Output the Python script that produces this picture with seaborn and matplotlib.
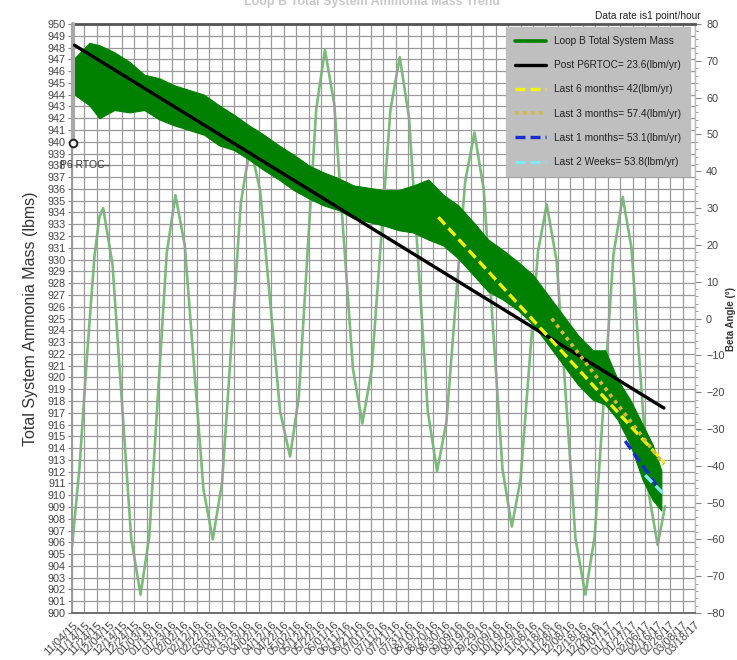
import numpy as np
import pandas as pd
import matplotlib
matplotlib.use("Agg")
import matplotlib.pyplot as plt
import matplotlib.dates as mdates
from matplotlib.ticker import MultipleLocator
from matplotlib.lines import Line2D
import seaborn as sns

# ---------------- data ----------------
START = pd.Timestamp("2015-11-04")
N_TICKS = 51          # date ticks every 10 days: 11/04/15 ... 03/18/17

# Loop B total system mass band (hourly data drawn as a dense band): envelope
mass_days = [2, 14, 22, 34, 46, 58, 70, 82, 94, 106, 118, 130, 142, 154, 166, 178,
             190, 202, 214, 226, 238, 250, 262, 274, 286, 298, 310, 322, 334, 346,
             358, 370, 382, 394, 406, 418, 428, 438, 448, 458, 466, 473]
mass_upper = [947.1, 948.4, 948.2, 947.6, 946.8, 945.7, 945.4, 944.8, 944.4, 944.0,
              943.1, 942.3, 941.4, 940.6, 939.7, 938.9, 938.0, 937.4, 936.9, 936.3,
              936.1, 935.9, 935.9, 936.3, 936.8, 935.5, 934.6, 933.2, 931.7, 930.8,
              929.8, 928.7, 927.0, 925.3, 923.6, 922.3, 922.3, 919.8, 918.1, 916.0,
              914.3, 912.1]
mass_lower = [944.0, 943.1, 942.0, 942.7, 942.5, 942.7, 941.9, 941.4, 941.0, 940.6,
              939.7, 939.3, 938.5, 937.6, 936.8, 935.9, 935.2, 934.6, 934.2, 933.5,
              933.2, 932.9, 932.5, 932.3, 931.7, 931.2, 930.1, 928.7, 927.3, 926.6,
              925.7, 924.5, 922.8, 921.1, 919.4, 918.1, 917.7, 916.4, 914.3, 911.3,
              909.6, 908.7]

# Beta angle (right axis, degrees)
beta_days = [0, 6, 12, 18, 22, 25, 32.5, 40, 47.5, 55, 62, 69, 76, 83, 90.5, 98, 105.5,
             113, 120.5, 128, 135.5, 143, 151, 159, 167, 175, 182, 189, 196, 203, 210.5,
             218, 225.5, 233, 240.5, 248, 255.5, 263, 270.5, 278, 285.5, 293, 300.5, 308,
             315.5, 323, 330.5, 338, 345.5, 353, 360, 367, 374, 381, 389, 396.5, 404, 412,
             419.5, 427, 434.5, 442, 449, 456, 463, 470, 476]
beta_deg = [-62, -40.5, -10.3, 16.8, 27.6, 30, 14.7, -22.5, -59.7, -75, -59.2, -20.75,
            17.7, 33.5, 19.9, -13.25, -46.4, -60, -44.4, -6.5, 31.4, 47, 34.7, 4.75,
            -25.2, -37.5, -21.4, 17.75, 56.9, 73, 58.2, 22.25, -13.7, -28.5, -14.0,
            21.25, 56.5, 71, 54.6, 14.75, -25.1, -41.5, -28.1, 4.5, 37.1, 50.5, 34.9,
            -3.0, -40.9, -56.5, -43.7, -12.75, 18.2, 31, 15.5, -22, -59.5, -75, -59.2,
            -21, 17.2, 33, 19.2, -14.25, -47.7, -61.5, -51]

# Trend lines: (label, start day, end day, start value, end value)
trend_labels = ["Post P6RTOC= 23.6(lbm/yr)", "Last 6 months= 42(lbm/yr)",
                "Last 3 months= 57.4(lbm/yr)", "Last 1 months= 53.1(lbm/yr)",
                "Last 2 Weeks= 53.8(lbm/yr)"]
trend_day0 = [2, 294, 385, 444, 460]
trend_day1 = [475, 475, 475, 472, 474]
trend_val0 = [948.2, 933.6, 925.0, 914.6, 911.7]
trend_val1 = [917.4, 912.8, 912.6, 910.4, 910.2]
band_label = "Loop B Total System Mass"

# P6 RTOC event marker
event_day = 1
event_top, event_bottom = 950.0, 939.9
event_label = "P6 RTOC"

# ---------------- styling ----------------
sns.set_style("white")
plt.rcParams["font.family"] = ["Liberation Sans Narrow", "Liberation Sans", "DejaVu Sans"]

def to_dates(days):
    return START + pd.to_timedelta(np.asarray(days, dtype=float), unit="D")

fig = plt.figure(figsize=(7.37, 6.60), dpi=100)
rect = [0.0977, 0.0712, 0.8453, 0.8924]
axb = fig.add_axes(rect)                 # beta angle (drawn underneath)
ax = fig.add_axes(rect, sharex=axb)      # mass (drawn on top)
ax.patch.set_visible(False)

GRID = "#9a9a9a"

# --- beta angle ---
beta_df = pd.DataFrame({"date": to_dates(beta_days), "beta": beta_deg})
sns.lineplot(data=beta_df, x="date", y="beta", ax=axb, color="#78be78",
             linewidth=1.9, sort=False, legend=False)
axb.set_ylim(-80, 80)
axb.yaxis.tick_right()
axb.yaxis.set_label_position("right")
axb.yaxis.set_major_locator(MultipleLocator(10))
axb.yaxis.set_minor_locator(MultipleLocator(2))
axb.tick_params(axis="y", which="major", right=True, length=4, color="#888888",
                labelsize=7.8, labelcolor="#444444", pad=4)
axb.tick_params(axis="y", which="minor", right=True, length=2.5, color="#888888")
axb.tick_params(axis="x", which="both", bottom=False, labelbottom=False)
axb.set_ylabel("Beta Angle (°)", fontsize=7, fontweight="bold", color="#333333",
               labelpad=1)
axb.set_xlabel("")
for s in axb.spines.values():
    s.set_visible(False)

# --- mass band ---
dates_mass = to_dates(mass_days)
ax.fill_between(dates_mass, mass_lower, mass_upper, color="#008000", linewidth=0.8,
                edgecolor="#008000", zorder=3)

styles = [
    dict(color="black", linewidth=2.4, linestyle="-"),
    dict(color="#f5f500", linewidth=2.4, linestyle=(0, (3, 1.5))),
    dict(color="#d8b93a", linewidth=2.6, linestyle=(0, (1, 1.2))),
    dict(color="#1a2bd0", linewidth=2.4, linestyle=(0, (3, 1.5))),
    dict(color="#7fe8f0", linewidth=2.4, linestyle=(0, (3, 1.5))),
]
handles = [Line2D([], [], color="#008000", linewidth=2.6)]
for lab, d0, d1, v0, v1, st in zip(trend_labels, trend_day0, trend_day1,
                                   trend_val0, trend_val1, styles):
    tdf = pd.DataFrame({"date": to_dates([d0, d1]), "mass": [v0, v1]})
    sns.lineplot(data=tdf, x="date", y="mass", ax=ax, legend=False, zorder=5, **st)
    handles.append(Line2D([], [], **st))

# event marker
ev_dates = to_dates([event_day, event_day])
ax.plot(ev_dates, [event_top, event_bottom], color="#a8a8a8", linewidth=3,
        zorder=4, clip_on=False)
ax.plot(ev_dates[1:], [event_bottom], marker="o", markersize=5.5, markerfacecolor="white",
        markeredgecolor="#222222", markeredgewidth=1.4, zorder=6, clip_on=False)
ax.text(to_dates([-9.6])[0], 938.0, event_label, fontsize=7.5, color="#333333",
        va="center", ha="left", zorder=6)
ax.plot(to_dates([20.5, 30]), [938.0, 938.0], color="#555555", linewidth=1.0, zorder=6)

# axes / ticks
ticks = pd.date_range(START, periods=N_TICKS, freq="10D")
ax.set_xlim(ticks[0], ticks[-1])
ax.set_ylim(900, 950)
ax.set_xticks(ticks)
ax.xaxis.set_major_formatter(mdates.DateFormatter("%m/%d/%y"))
ax.xaxis.set_minor_locator(MultipleLocator(2))
ax.tick_params(axis="x", which="major", labelsize=8, labelcolor="#444444",
               length=3, color="#777777", pad=2)
ax.tick_params(axis="x", which="minor", length=2, color="#777777")
plt.setp(ax.get_xticklabels(), rotation=45, ha="right", rotation_mode="anchor")
ax.yaxis.set_major_locator(MultipleLocator(1))
ax.tick_params(axis="y", which="major", left=True, right=False, labelsize=7.8,
               labelcolor="#444444", length=3, color="#888888", pad=1.5)
ax.grid(True, which="major", color=GRID, linewidth=0.9, zorder=0)
ax.set_axisbelow(True)
ax.set_xlabel("")
ax.set_ylabel("Total System Ammonia Mass (lbms)", fontsize=11.5, color="#333333",
              labelpad=7)

ax.spines["top"].set_color("#555555")
ax.spines["top"].set_linewidth(2.0)
ax.spines["left"].set_color("#9a9a9a")
ax.spines["left"].set_linewidth(1.4)
ax.spines["bottom"].set_color("#666666")
ax.spines["bottom"].set_linewidth(1.3)
ax.spines["right"].set_color("#bbbbbb")
ax.spines["right"].set_linewidth(1.0)

# legend
leg = ax.legend(handles, [band_label] + trend_labels, loc="upper right",
                bbox_to_anchor=(0.992, 0.995), fontsize=7.3, frameon=True,
                fancybox=False, facecolor="#bfbfbf", edgecolor="#bfbfbf",
                framealpha=1.0, labelspacing=1.4, handlelength=3.0,
                handletextpad=0.8, borderpad=0.9, borderaxespad=0.0)
leg.set_zorder(10)
for t in leg.get_texts():
    t.set_color("#222222")

# texts above the plot
fig.text(0.951, 0.976, "Data rate is1 point/hour", fontsize=7.3, ha="right",
         va="center", color="#222222")
fig.text(0.505, 0.997, "Loop B Total System Ammonia Mass Trend", fontsize=9,
         ha="center", va="center", color="#c8c8c8", fontweight="bold")

fig.savefig("out.png", dpi=100)
